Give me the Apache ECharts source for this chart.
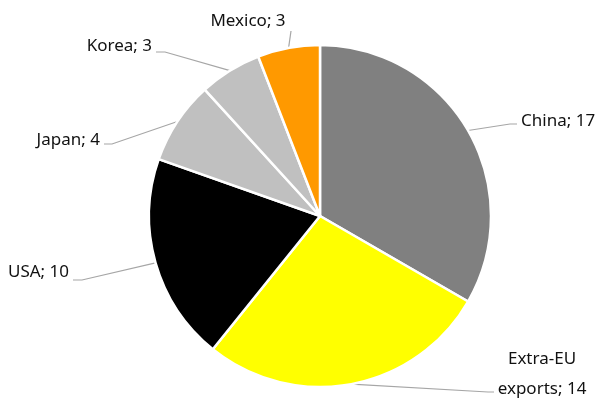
<!DOCTYPE html>
<html>
<head>
<meta charset="utf-8">
<script src="https://cdn.jsdelivr.net/npm/echarts@6/dist/echarts.min.js"></script>
<style>
  html, body { margin: 0; padding: 0; background: #fff; }
  #chart { width: 598px; height: 398px; }
</style>
</head>
<body>
<div id="chart"></div>
<script>
const categories = ['China', 'Extra-EU\nexports', 'USA', 'Japan', 'Korea', 'Mexico'];
const values = [17, 14, 10, 4, 3, 3];
const colors = ['#808080', '#FFFF00', '#000000', '#C0C0C0', '#C0C0C0', '#FF9900'];

// label placement (Excel-style callouts): text anchor, align, elbow, line end
const labelPlace = [
    { x: 521, y: 121, align: 'left',   elbow: [510, 124], end: [517, 124] },
    { x: 542, y: 374, align: 'center', elbow: [488, 392], end: [494, 392] },
    { x: 69,  y: 272, align: 'right',  elbow: [82, 280],  end: [73, 280] },
    { x: 100, y: 140, align: 'right',  elbow: [112, 144], end: [104, 144] },
    { x: 152, y: 46,  align: 'right',  elbow: [165, 52],  end: [156, 52] },
    { x: 248, y: 21,  align: 'center', elbow: [291, 31],  end: [291, 31] }
];

const chart = echarts.init(document.getElementById('chart'));

const pieData = categories.map((name, i) => ({
    name: name,
    value: values[i],
    itemStyle: { color: colors[i] }
}));

chart.setOption({
    backgroundColor: '#fff',
    animation: false,
    series: [{
        type: 'pie',
        center: [320, 216],
        radius: 171,
        startAngle: 90,
        clockwise: true,
        data: pieData,
        itemStyle: { borderColor: '#fff', borderWidth: 2.5 },
        label: {
            show: true,
            formatter: '{b}; {c}',
            fontFamily: 'Noto Sans',
            fontSize: 17,
            color: '#111',
            lineHeight: 30
        },
        labelLine: {
            show: true,
            length: 20,
            length2: 12,
            lineStyle: { color: '#A6A6A6', width: 1.2 }
        },
        labelLayout: function (params) {
            const p = labelPlace[params.dataIndex];
            const start = params.labelLinePoints ? params.labelLinePoints[0] : p.elbow;
            return {
                x: p.x,
                y: p.y,
                align: p.align,
                verticalAlign: 'middle',
                labelLinePoints: [start, p.elbow, p.end]
            };
        }
    }]
});
</script>
</body>
</html>
